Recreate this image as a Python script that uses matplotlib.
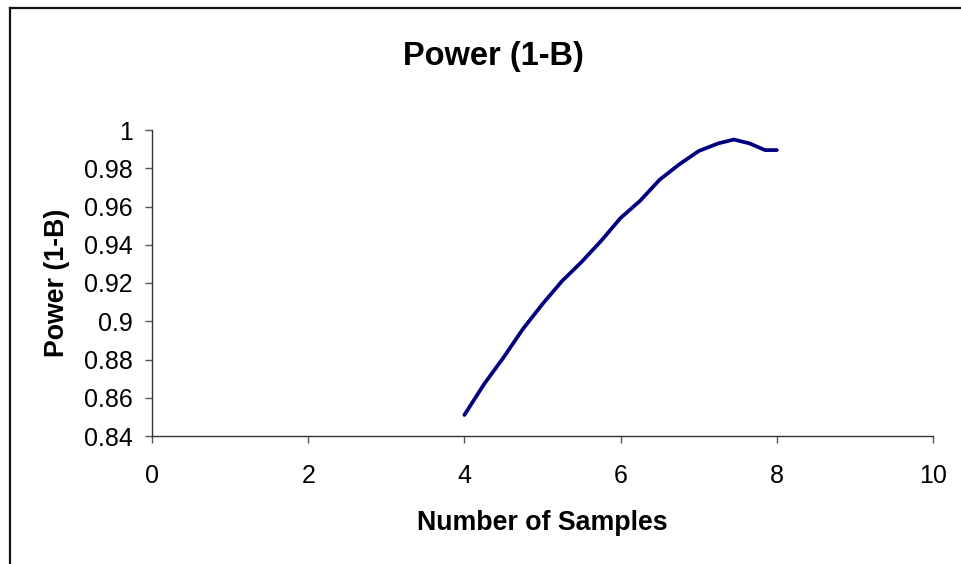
import matplotlib
matplotlib.use('Agg')
import matplotlib.pyplot as plt
from matplotlib.lines import Line2D

plt.rcParams['font.family'] = ['Liberation Sans', 'DejaVu Sans']

# power curve
samples = [4.0, 4.25, 4.5, 4.75, 5.0, 5.25, 5.5, 5.75, 6.0,
           6.25, 6.5, 6.75, 7.0, 7.25, 7.45, 7.65, 7.85, 8.0]
power = [0.851, 0.867, 0.881, 0.896, 0.909, 0.921, 0.931, 0.942, 0.954,
         0.963, 0.974, 0.982, 0.989, 0.993, 0.995, 0.993, 0.9895, 0.9895]

x_ticks = [0, 2, 4, 6, 8, 10]
y_ticks = [0.84, 0.86, 0.88, 0.9, 0.92, 0.94, 0.96, 0.98, 1]
y_tick_labels = ['0.84', '0.86', '0.88', '0.9', '0.92', '0.94', '0.96', '0.98', '1']

W, H = 962, 564
fig = plt.figure(figsize=(W / 100, H / 100), dpi=100)
ax = fig.add_axes([152 / W, 1 - 436 / H, (933 - 152) / W, (436 - 130) / H])

ax.plot(samples, power, color='#000080', lw=2.7, solid_capstyle='round',
        solid_joinstyle='round')

ax.set_xlim(0, 10)
ax.set_ylim(0.84, 1.0)
ax.set_xticks(x_ticks)
ax.set_yticks(y_ticks)
ax.set_yticklabels(y_tick_labels)

for side in ['top', 'right']:
    ax.spines[side].set_visible(False)
for side in ['left', 'bottom']:
    ax.spines[side].set_color('#333333')
    ax.spines[side].set_linewidth(1.0)

ax.tick_params(axis='both', direction='out', length=5, width=1.0,
               color='#555555', labelsize=18)
ax.tick_params(axis='x', pad=15)
ax.tick_params(axis='y', pad=9)

ax.set_xlabel('Number of Samples', fontsize=19.3, fontweight='bold', labelpad=16)
ax.set_ylabel('Power (1-B)', fontsize=19.3, fontweight='bold', labelpad=10)

fig.text(493 / W, 1 - 57 / H, 'Power (1-B)', ha='center', va='center',
         fontsize=23.5, fontweight='bold')

# chart area border (left and top edges visible)
fig.add_artist(Line2D([9.5 / W, 9.5 / W], [0, 1 - 8 / H], transform=fig.transFigure,
                      color='#111111', lw=1.6))
fig.add_artist(Line2D([9.5 / W, 1], [1 - 8 / H, 1 - 8 / H], transform=fig.transFigure,
                      color='#111111', lw=1.6))

fig.savefig('out.png', dpi=100)
plt.close()
